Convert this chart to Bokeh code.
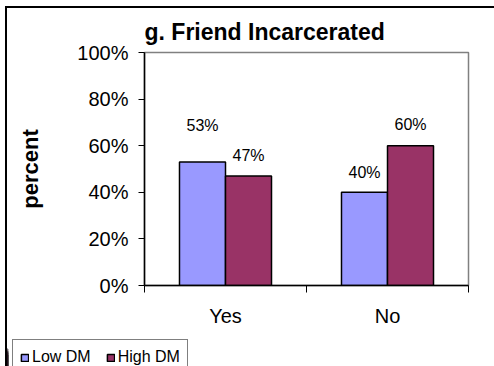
from bokeh.plotting import figure
from bokeh.layouts import column
from bokeh.models import (ColumnDataSource, Range1d, LinearAxis,
                          FixedTicker, NumeralTickFormatter, Legend, LegendItem, Title)
from bokeh.transform import dodge
from bokeh.core.properties import value
from bokeh.embed import file_html
from bokeh.resources import INLINE

# ---- data ----
categories = ["Yes", "No"]
series_names = ["Low DM", "High DM"]
low_dm = [0.53, 0.40]
high_dm = [0.47, 0.60]
low_labels = ["53%", "40%"]
high_labels = ["47%", "60%"]
y_ticks = [0, 0.2, 0.4, 0.6, 0.8, 1.0]

# ---- styles ----
low_color = "#9999FF"
high_color = "#993366"
low_label_lift = [-37, -20]
high_label_lift = [-20, -21]
FONT = "Liberation Sans"

n = len(categories)
centers = [i + 0.5 for i in range(n)]

src = ColumnDataSource(dict(pos=centers, low=low_dm, high=high_dm,
                            low_lab=low_labels, high_lab=high_labels,
                            low_off=low_label_lift, high_off=high_label_lift))

p = figure(width=487, height=329, x_range=Range1d(0, n),
           y_range=Range1d(0, 1), output_backend="svg", toolbar_location=None,
           x_axis_location=None, y_axis_location=None,
           min_border_left=137, min_border_right=26, min_border_top=44, min_border_bottom=52)
p.frame_align = False
p.grid.visible = False
p.outline_line_color = "#808080"
p.outline_line_width = 1.5
p.background_fill_color = "white"
p.border_fill_color = "white"

bw = 0.284
bar_style = dict(line_color="black", line_width=1.5)
r_low = p.vbar(x=dodge("pos", -bw / 2), top="low", width=bw, source=src,
               fill_color=low_color, **bar_style)
r_high = p.vbar(x=dodge("pos", bw / 2), top="high", width=bw, source=src,
                fill_color=high_color, **bar_style)

p.text(x=dodge("pos", -bw / 2), y="low", text="low_lab", y_offset="low_off",
       source=src, text_align="center", text_baseline="middle",
       text_font=value(FONT), text_font_size="16px", text_color="black")
p.text(x=dodge("pos", bw / 2), y="high", text="high_lab", y_offset="high_off",
       source=src, text_align="center", text_baseline="middle",
       text_font=value(FONT), text_font_size="16px", text_color="black")

# y axis
yax = LinearAxis(ticker=FixedTicker(ticks=y_ticks), formatter=NumeralTickFormatter(format="0%"),
                 axis_label="percent")
yax.axis_line_color = "black"
yax.axis_line_width = 1.5
yax.major_tick_out = 6
yax.major_tick_in = 0
yax.minor_tick_line_color = None
yax.major_label_text_font = FONT
yax.major_label_text_font_size = "20px"
yax.major_label_text_color = "black"
yax.major_label_standoff = 10
yax.axis_label_text_font = FONT
yax.axis_label_text_font_style = "bold"
yax.axis_label_text_font_size = "22px"
yax.axis_label_text_color = "black"
yax.axis_label_standoff = 31
p.add_layout(yax, "left")

# x boundary ticks (between categories)
tax = LinearAxis(ticker=FixedTicker(ticks=list(range(n + 1))))
tax.axis_line_color = "black"
tax.axis_line_width = 1.5
tax.major_tick_out = 7
tax.major_tick_in = 0
tax.minor_tick_line_color = None
tax.major_label_text_font_size = "0px"
tax.major_label_standoff = 0
p.add_layout(tax, "below")

# category labels
cax = LinearAxis(ticker=FixedTicker(ticks=centers),
                 major_label_overrides={c: lab for c, lab in zip(centers, categories)})
cax.axis_line_color = None
cax.major_tick_line_color = None
cax.minor_tick_line_color = None
cax.major_label_text_font = FONT
cax.major_label_text_font_size = "20px"
cax.major_label_text_color = "black"
cax.major_label_standoff = 6
p.add_layout(cax, "below")

title = Title(text="g. Friend Incarcerated", align="left", text_font=FONT,
              text_font_size="23px", text_font_style="bold", text_color="black", standoff=16)
p.add_layout(title, "above")

# legend strip: its range lies far from the bars, so only the legend shows
pl = figure(width=487, height=29, x_range=Range1d(100, 102), y_range=Range1d(0, 1),
            output_backend="svg", toolbar_location=None,
            x_axis_location=None, y_axis_location=None,
            min_border_left=0, min_border_right=0, min_border_top=0, min_border_bottom=0)
pl.frame_align = False
pl.grid.visible = False
pl.outline_line_color = None
pl.border_fill_color = "white"
l_low = pl.vbar(x="pos", top="low", width=bw, source=src, fill_color=low_color, **bar_style)
l_high = pl.vbar(x="pos", top="high", width=bw, source=src, fill_color=high_color, **bar_style)
legend = Legend(items=[LegendItem(label=series_names[0], renderers=[l_low]),
                       LegendItem(label=series_names[1], renderers=[l_high])],
                location=(5, -9), orientation="horizontal",
                label_text_font=FONT, label_text_font_size="16px", label_text_color="black",
                glyph_width=9, glyph_height=9, label_standoff=3, spacing=15,
                padding=7, margin=0, label_height=20,
                border_line_color="black", border_line_width=1.2,
                background_fill_alpha=1)
pl.add_layout(legend, "center")

layout = column(p, pl, spacing=0,
                styles={"margin-left": "5px", "margin-top": "6px",
                        "border-left": "2px solid black", "border-top": "2px solid black"})

open("out.html", "w").write(file_html(layout, INLINE))
